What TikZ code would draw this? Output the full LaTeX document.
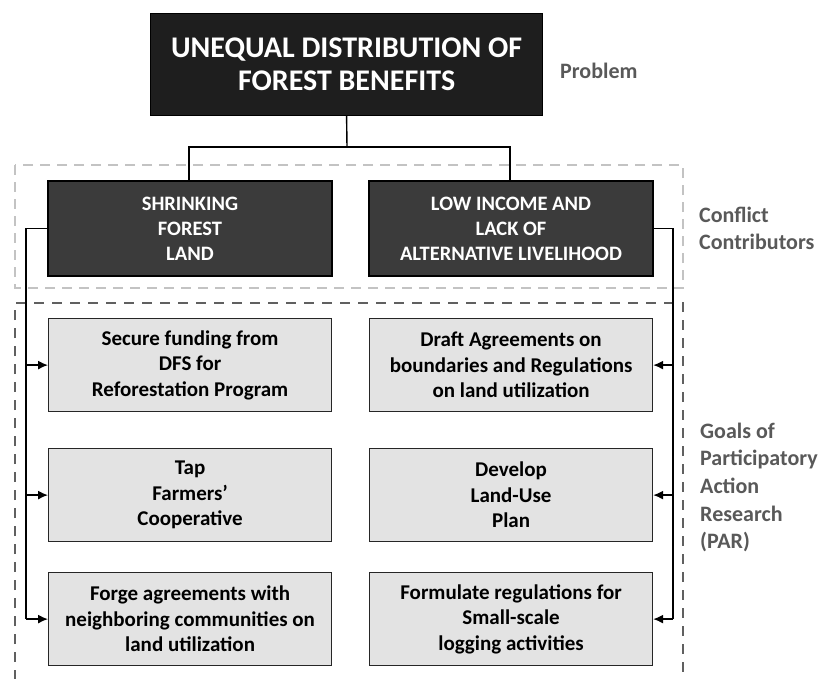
\documentclass[tikz,border=0pt]{standalone}
\usepackage{fontspec}
\setmainfont{Carlito}
\usetikzlibrary{arrows.meta}
\definecolor{topfill}{HTML}{1E1E1E}
\definecolor{darkfill}{HTML}{3B3B3B}
\definecolor{lightfill}{HTML}{E3E3E3}
\definecolor{labelgray}{HTML}{595959}
\definecolor{dashlight}{HTML}{C3C3C3}
\definecolor{dashdark}{HTML}{606060}
\tikzset{
  topbox/.style={draw=black, line width=1.2pt, fill=topfill, text=white, anchor=north west, inner sep=0pt, align=center,
    minimum width=392pt, minimum height=102pt, font=\bfseries\fontsize{30}{33}\selectfont},
  darkbox/.style={draw=black, line width=2pt, fill=darkfill, text=white, anchor=north west, inner sep=0pt, align=center,
    minimum width=284pt, minimum height=95pt, font=\bfseries\fontsize{20.5}{25}\selectfont},
  goalbox/.style={draw=black!85, line width=1.2pt, fill=lightfill, text=black, anchor=north west, inner sep=0pt, align=center,
    minimum width=283pt, minimum height=93pt, font=\bfseries\fontsize{21}{25.5}\selectfont},
  sidelabel/.style={text=labelgray, anchor=west, inner sep=0pt, align=left, font=\bfseries\fontsize{22}{27.6}\selectfont},
  conn/.style={draw=black, line width=1.4pt},
  arr/.style={conn, -{Latex[length=10pt,width=9pt]}},
}
\begin{document}
\begin{tikzpicture}[x=1pt,y=-1pt]
\useasboundingbox[fill=white] (0,0) rectangle (833,678);
% dashed group frames
\draw[dashlight, line width=2pt, dash pattern=on 10pt off 7pt] (15,165) rectangle (683,288);
\draw[dashdark, line width=2pt, dash pattern=on 10pt off 8pt] (15,680) -- (15,303) -- (683,303) -- (683,680);
% top problem
\node[topbox] (top) at (150,13) {UNEQUAL DISTRIBUTION OF\\FOREST BENEFITS};
\node[sidelabel] (lprob) at (560,71) {Problem};
% conflict contributors
\node[darkbox] (shrink) at (47,180) {SHRINKING\\FOREST\\LAND};
\node[darkbox] (income) at (368,180) {LOW INCOME AND\\LACK OF\\ALTERNATIVE LIVELIHOOD};
\node[sidelabel] (lconf) at (699,228.5) {Conflict\\Contributors};
% goals
\node[goalbox] (g1) at (48,318) {Secure funding from\\DFS for\\Reforestation Program};
\node[goalbox] (g2) at (48,448) {Tap\\Farmers'\\Cooperative};
\node[goalbox] (g3) at (48,572) {Forge agreements with\\neighboring communities on\\land utilization};
\node[goalbox] (g4) at (369,318) {Draft Agreements on\\boundaries and Regulations\\on land utilization};
\node[goalbox] (g5) at (369,448) {Develop\\Land-Use\\Plan};
\node[goalbox] (g6) at (369,572) {Formulate regulations for\\Small-scale\\logging activities};
\node[sidelabel] (lgoal) at (700,487.5) {Goals of\\Participatory\\Action\\Research\\(PAR)};
% tree connectors
\coordinate (split) at (347,147);
\draw[conn] (top.south) -- (split);
\draw[conn] (shrink.north -| 189,0) |- (split) -| (income.north -| 510,0);
% left bus
\coordinate (lbus) at (26,619);
\draw[conn] (shrink.west) -| (lbus);
\draw[arr] (g1.west -| lbus) -- (g1.west);
\draw[arr] (g2.west -| lbus) -- (g2.west);
\draw[arr] (g3.west -| lbus) -- (g3.west);
% right bus
\coordinate (rbus) at (673,619);
\draw[conn] (income.east) -| (rbus);
\draw[arr] (g4.east -| rbus) -- (g4.east);
\draw[arr] (g5.east -| rbus) -- (g5.east);
\draw[arr] (g6.east -| rbus) -- (g6.east);
\end{tikzpicture}
\end{document}
